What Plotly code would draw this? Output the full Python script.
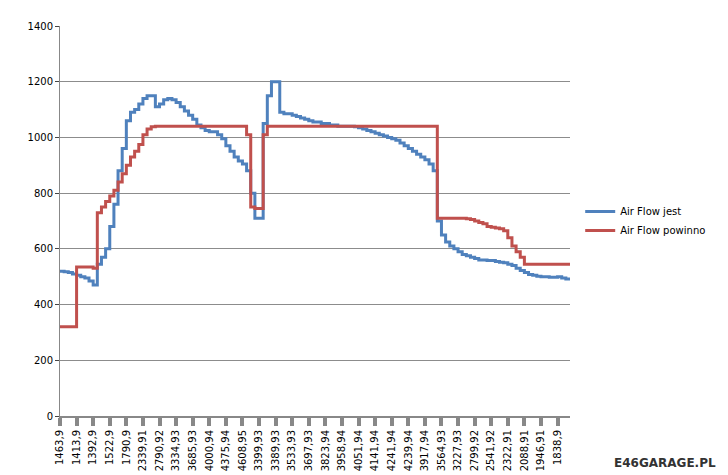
import plotly.graph_objects as go

tick_labels = ["1463,9", "1413,9", "1392,9", "1522,9", "1790,9", "2339,91", "2790,92", "3334,93",
               "3685,93", "4000,94", "4375,94", "4608,95", "3399,93", "3389,93", "3533,93", "3697,93",
               "3823,94", "3958,94", "4051,94", "4141,94", "4241,94", "4239,94", "3917,94", "3564,93",
               "3227,93", "2799,92", "2541,92", "2322,91", "2088,91", "1946,91", "1838,9"]

air_flow_jest = [520, 518, 515, 510, 505, 500, 495, 485, 470, 545, 570, 600, 680, 760, 880, 960,
                 1060, 1090, 1100, 1120, 1140, 1150, 1150, 1110, 1120, 1135, 1140, 1135, 1125, 1110,
                 1095, 1080, 1065, 1045, 1035, 1025, 1020, 1020, 1010, 995, 970, 950, 930, 915, 905,
                 880, 800, 710, 710, 1050, 1150, 1200, 1200, 1090, 1085, 1085, 1080, 1075, 1070, 1065,
                 1060, 1055, 1055, 1050, 1050, 1045, 1045, 1040, 1040, 1040, 1040, 1038, 1035, 1030,
                 1025, 1020, 1015, 1010, 1005, 1000, 995, 990, 980, 970, 960, 950, 940, 930, 920, 905,
                 880, 700, 650, 625, 610, 600, 590, 580, 575, 570, 565, 560, 560, 558, 558, 555, 552,
                 550, 545, 540, 530, 522, 515, 508, 505, 502, 500, 500, 498, 498, 500, 495, 492, 492]

air_flow_powinno = [320, 320, 320, 320, 535, 535, 535, 535, 530, 730, 750, 770, 790, 810, 840, 870,
                    900, 930, 950, 975, 1010, 1030, 1038, 1040, 1040, 1040, 1040, 1040, 1040, 1040,
                    1040, 1040, 1040, 1040, 1040, 1040, 1040, 1040, 1040, 1040, 1040, 1040, 1040, 1040,
                    1040, 1010, 750, 745, 745, 1010, 1040, 1040, 1040, 1040, 1040, 1040, 1040, 1040,
                    1040, 1040, 1040, 1040, 1040, 1040, 1040, 1040, 1040, 1040, 1040, 1040, 1040, 1040,
                    1040, 1040, 1040, 1040, 1040, 1040, 1040, 1040, 1040, 1040, 1040, 1040, 1040, 1040,
                    1040, 1040, 1040, 1040, 1040, 710, 710, 710, 710, 710, 710, 710, 708, 705, 700, 695,
                    690, 680, 678, 675, 672, 665, 640, 610, 590, 570, 545, 545, 545, 545, 545, 545, 545,
                    545, 545, 545, 545, 545]

idx = list(range(len(air_flow_jest)))

fig = go.Figure()
fig.add_trace(go.Scatter(x=idx, y=air_flow_jest, name="Air Flow jest", mode="lines",
                         line=dict(color="#4F81BD", width=3, shape="hv")))
fig.add_trace(go.Scatter(x=idx, y=air_flow_powinno, name="Air Flow powinno", mode="lines",
                         line=dict(color="#C0504D", width=3, shape="hv")))

fig.update_layout(
    width=728, height=475,
    margin=dict(l=52, r=166, t=14, b=61),
    plot_bgcolor="white", paper_bgcolor="white",
    font=dict(family="DejaVu Sans", size=10, color="black"),
    legend=dict(x=1.02, y=0.5, yanchor="middle", font=dict(size=10)),
    xaxis=dict(range=[0, len(idx) - 1], tickmode="array", tickvals=idx[::4], ticktext=tick_labels,
               tickangle=-90, ticks="outside", ticklen=8, tickcolor="#888", tickwidth=4,
               showgrid=False, showline=True, linecolor="#888", linewidth=2, zeroline=False),
    yaxis=dict(range=[0, 1400], dtick=200, showgrid=True, gridcolor="#8c8c8c", gridwidth=1,
               showline=True, linecolor="#888", ticks="outside", ticklen=4, zeroline=False),
    annotations=[dict(text="<b>E46GARAGE.PL</b>", x=1.0, y=0.0, xref="paper", yref="paper",
                      xanchor="left", yanchor="top", xshift=42, yshift=-38, showarrow=False,
                      font=dict(size=12, color="#333"))],
)

fig.write_html("out.html")
